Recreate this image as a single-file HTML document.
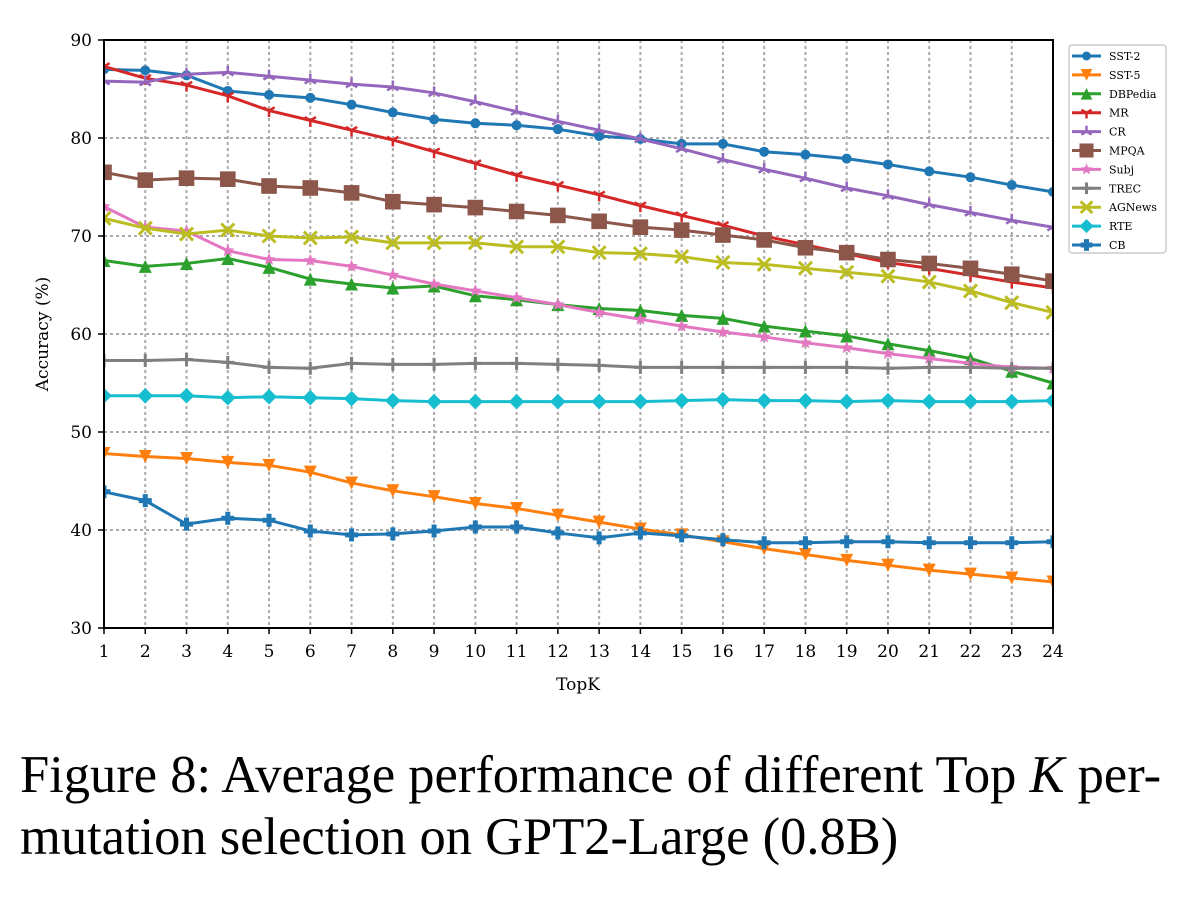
<!DOCTYPE html>
<html><head><meta charset="utf-8"><style>
body{margin:0;background:#fff;width:1186px;height:910px;overflow:hidden}
.cap{position:absolute;left:20px;top:744px;font-family:"Liberation Serif",serif;font-size:52.5px;line-height:62px;color:#000;white-space:nowrap}
</style></head><body>
<svg id="s" width="1186" height="910" style="position:absolute;left:0;top:0" font-family="DejaVu Serif, serif"></svg>
<div class="cap">Figure 8: Average performance of different Top <i>K</i> per-<br>mutation selection on GPT2-Large (0.8B)</div>
<script>
const S=document.getElementById('s');let h='';
const X=k=>104+(k-1)*(949/23), Y=v=>40+(90-v)*9.8;
for(let k=1;k<=24;k++)h+=`<line x1="${X(k)}" y1="40" x2="${X(k)}" y2="628" stroke="#aaa" stroke-width="2" stroke-dasharray="3,3"/>`;
for(let v=30;v<=90;v+=10)h+=`<line x1="104" y1="${Y(v)}" x2="1053" y2="${Y(v)}" stroke="#aaa" stroke-width="2" stroke-dasharray="3,3"/>`;
const D={
'SST-2':['#1f77b4','o',[87.0,86.9,86.4,84.8,84.4,84.1,83.4,82.6,81.9,81.5,81.3,80.9,80.2,79.9,79.4,79.4,78.6,78.3,77.9,77.3,76.6,76.0,75.2,74.5]],
'SST-5':['#ff7f0e','v',[47.8,47.5,47.3,46.9,46.6,45.9,44.8,44.0,43.4,42.7,42.2,41.5,40.8,40.1,39.5,38.8,38.1,37.5,36.9,36.4,35.9,35.5,35.1,34.7]],
'DBPedia':['#2ca02c','^',[67.5,66.9,67.2,67.7,66.8,65.6,65.1,64.7,64.9,63.9,63.5,63.0,62.6,62.4,61.9,61.6,60.8,60.3,59.8,59.0,58.3,57.5,56.2,55.0]],
'MR':['#d62728','1',[87.3,86.1,85.4,84.3,82.8,81.8,80.8,79.8,78.6,77.4,76.2,75.2,74.2,73.1,72.1,71.1,70.0,69.1,68.2,67.3,66.7,66.0,65.3,64.7]],
'CR':['#9467bd','2',[85.8,85.7,86.5,86.7,86.3,85.9,85.5,85.2,84.6,83.7,82.7,81.7,80.8,79.9,78.9,77.8,76.8,75.9,74.9,74.1,73.2,72.4,71.6,70.9]],
'MPQA':['#8c564b','s',[76.5,75.7,75.9,75.8,75.1,74.9,74.4,73.5,73.2,72.9,72.5,72.1,71.5,70.9,70.6,70.1,69.6,68.8,68.3,67.6,67.2,66.7,66.1,65.4]],
'Subj':['#e377c2','*',[73.0,70.9,70.5,68.5,67.6,67.5,66.9,66.0,65.1,64.4,63.7,63.0,62.2,61.5,60.8,60.2,59.7,59.1,58.6,58.0,57.5,57.0,56.6,56.5]],
'TREC':['#7f7f7f','+',[57.3,57.3,57.4,57.1,56.6,56.5,57.0,56.9,56.9,57.0,57.0,56.9,56.8,56.6,56.6,56.6,56.6,56.6,56.6,56.5,56.6,56.6,56.5,56.5]],
'AGNews':['#bcbd22','x',[71.8,70.8,70.2,70.6,70.0,69.8,69.9,69.3,69.3,69.3,68.9,68.9,68.3,68.2,67.9,67.3,67.1,66.7,66.3,65.9,65.3,64.4,63.2,62.2]],
'RTE':['#17becf','D',[53.7,53.7,53.7,53.5,53.6,53.5,53.4,53.2,53.1,53.1,53.1,53.1,53.1,53.1,53.2,53.3,53.2,53.2,53.1,53.2,53.1,53.1,53.1,53.2]],
'CB':['#1f77b4','P',[43.9,43.0,40.6,41.2,41.0,39.9,39.5,39.6,39.9,40.3,40.3,39.7,39.2,39.7,39.4,39.0,38.7,38.7,38.8,38.8,38.7,38.7,38.7,38.8]]};
function M(m,x,y,c,s){s=s||1;const r=6.5*s;
switch(m){
case'o':return `<circle cx="${x}" cy="${y}" r="${5*s}" fill="${c}"/>`;
case'v':return `<polygon points="${x-r},${y-r} ${x+r},${y-r} ${x},${y+r}" fill="${c}"/>`;
case'^':return `<polygon points="${x-r},${y+r} ${x+r},${y+r} ${x},${y-r}" fill="${c}"/>`;
case's':return `<rect x="${x-r*1.2}" y="${y-r*1.2}" width="${r*2.4}" height="${r*2.4}" fill="${c}"/>`;
case'D':return `<polygon points="${x},${y-r*1.2} ${x+r*1.2},${y} ${x},${y+r*1.2} ${x-r*1.2},${y}" fill="${c}"/>`;
case'+':return `<path d="M${x-r} ${y}H${x+r}M${x} ${y-r}V${y+r}" stroke="${c}" stroke-width="3"/>`;
case'x':return `<path d="M${x-r} ${y-r}L${x+r} ${y+r}M${x+r} ${y-r}L${x-r} ${y+r}" stroke="${c}" stroke-width="3"/>`;
case'1':return `<path d="M${x} ${y}V${y+r}M${x} ${y}L${x-r*.87} ${y-r*.5}M${x} ${y}L${x+r*.87} ${y-r*.5}" stroke="${c}" stroke-width="2.5"/>`;
case'2':return `<path d="M${x} ${y}V${y-r}M${x} ${y}L${x-r*.87} ${y+r*.5}M${x} ${y}L${x+r*.87} ${y+r*.5}" stroke="${c}" stroke-width="2.5"/>`;
case'*':{let p=[];for(let i=0;i<10;i++){const a=-Math.PI/2+i*Math.PI/5,rr=i%2?r*.45:r*1.05;p.push((x+rr*Math.cos(a)).toFixed(1)+','+(y+rr*Math.sin(a)).toFixed(1));}return `<polygon points="${p.join(' ')}" fill="${c}"/>`;}
case'P':return `<path d="M${x-r} ${y}H${x+r}M${x} ${y-r}V${y+r}" stroke="${c}" stroke-width="5"/>`;
}}
h+='<svg x="0" y="0"><clipPath id="c"><rect x="103" y="39" width="951" height="590"/></clipPath><g clip-path="url(#c)">';
for(const n in D){const [c,m,v]=D[n];
h+=`<polyline fill="none" stroke="${c}" stroke-width="3" points="${v.map((a,i)=>X(i+1)+','+Y(a)).join(' ')}"/>`;
v.forEach((a,i)=>h+=M(m,X(i+1),Y(a),c));}
h+='</g></svg>';
h+=`<rect x="104" y="40" width="949" height="588" fill="none" stroke="#000" stroke-width="2"/>`;
for(let k=1;k<=24;k++){h+=`<line x1="${X(k)}" y1="628" x2="${X(k)}" y2="634" stroke="#000" stroke-width="1.5"/><text x="${X(k)}" y="657" font-size="17" text-anchor="middle">${k}</text>`;}
for(let v=30;v<=90;v+=10){h+=`<line x1="98" y1="${Y(v)}" x2="104" y2="${Y(v)}" stroke="#000" stroke-width="1.5"/><text x="92" y="${Y(v)+6}" font-size="17" text-anchor="end">${v}</text>`;}
h+=`<text x="578" y="690" font-size="17" text-anchor="middle">TopK</text>`;
h+=`<text transform="translate(48,334) rotate(-90)" font-size="17" text-anchor="middle">Accuracy (%)</text>`;
h+=`<rect x="1069" y="45" width="97" height="208" rx="3" fill="#fff" stroke="#ccc" stroke-width="1.5"/>`;
let i=0;for(const n in D){const [c,m]=D[n];const y=56+i*18.9;
h+=`<line x1="1072" y1="${y}" x2="1101" y2="${y}" stroke="${c}" stroke-width="3"/>`+M(m,1086.5,y,c,.9)+`<text x="1109" y="${y+4}" font-size="11">${n}</text>`;i++;}
S.innerHTML=h;
</script>
</body></html>
